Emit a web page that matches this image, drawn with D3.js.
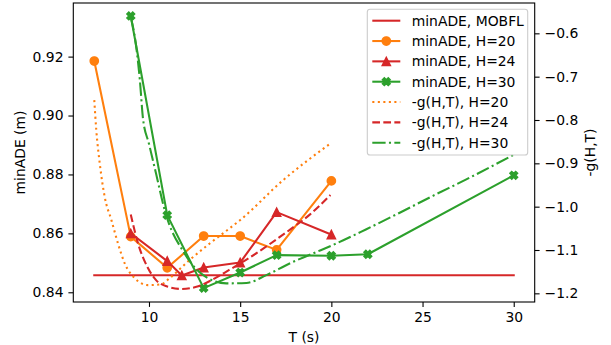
<!DOCTYPE html>
<html><head><meta charset="utf-8">
<script src="https://cdn.jsdelivr.net/npm/d3@7"></script>
<style>
html,body{margin:0;padding:0;background:#fff;}
svg{display:block;font-family:"DejaVu Sans",sans-serif;}
</style></head>
<body><svg id="chart" width="611" height="345"></svg>
<script>
// ---- data ----
const T20 = [7, 9, 11, 13, 15, 17, 20];
const ade20 = [0.9185, 0.8589, 0.8483, 0.8591, 0.8591, 0.8544, 0.8778];
const T24 = [9, 11, 11.8, 13, 15, 17, 20];
const ade24 = [0.8600, 0.8506, 0.8457, 0.8484, 0.8501, 0.8672, 0.8596];
const T30 = [9, 11, 13, 15, 17, 20, 22, 30];
const ade30 = [0.9338, 0.8662, 0.8414, 0.8467, 0.8526, 0.8524, 0.8529, 0.8797];
const Tmobfl = [7, 30];
const adeMobfl = [0.8458, 0.8458];

const gT20 = [7.0, 7.11, 7.30, 7.57, 7.94, 8.30, 8.67, 9.22, 9.95, 10.68, 11.13, 12.23, 13.33, 14.42, 14.97, 17.35, 19.95];
const g20  = [-0.754, -0.823, -0.900, -0.977, -1.031, -1.085, -1.131, -1.165, -1.181, -1.179, -1.165, -1.123, -1.085, -1.050, -1.032, -0.939, -0.854];
const gT24 = [9.0, 9.4, 9.95, 10.4, 11.0, 11.8, 12.6, 13.5, 14.4, 15.5, 16.6, 17.7, 18.8, 19.95];
const g24  = [-1.018, -1.085, -1.142, -1.170, -1.184, -1.190, -1.185, -1.168, -1.146, -1.118, -1.087, -1.054, -1.019, -0.973];
const gT30 = [9.0, 9.19, 9.5, 9.67, 10.0, 10.4, 10.86, 11.95, 13.23, 14.24, 15.34, 16.44, 17.71, 18.99, 20.27, 21.92, 23.75, 25.57, 27.40, 29.96];
const g30  = [-0.563, -0.600, -0.708, -0.796, -0.855, -0.926, -1.008, -1.108, -1.165, -1.177, -1.176, -1.158, -1.131, -1.108, -1.085, -1.052, -1.014, -0.975, -0.937, -0.881];

const xTicks = [10, 15, 20, 25, 30];
const yLeftTicks = [0.84, 0.86, 0.88, 0.90, 0.92];
const yRightTicks = [-0.6, -0.7, -0.8, -0.9, -1.0, -1.1, -1.2];

const C_OR = "#ff7f0e", C_RED = "#d62728", C_GR = "#2ca02c";

// ---- layout ----
const W = 611, H = 345;
const m = {l: 73.3, r: 76.3, t: 3, b: 43};
const x0 = m.l, x1 = W - m.r, y0 = m.t, y1 = H - m.b;
const FS = 13.9;
const LW = 2.08;

const x = d3.scaleLinear().domain([5.85, 31.15]).range([x0, x1]);
const yL = d3.scaleLinear().domain([0.8367, 0.9382]).range([y1, y0]);
const yR = d3.scaleLinear().domain([-1.220, -0.530]).range([y1, y0]);

const svg = d3.select("#chart");

const clipId = "plotclip";
svg.append("defs").append("clipPath").attr("id", clipId)
  .append("rect").attr("x", x0).attr("y", y0).attr("width", x1 - x0).attr("height", y1 - y0);

// ---- symbols ----
const triSym = {draw(ctx, size) { const r = Math.sqrt(size) / 2; ctx.moveTo(0, -r); ctx.lineTo(r, r); ctx.lineTo(-r, r); ctx.closePath(); }};
function marker(g, type, size, color, cx, cy, rot) {
  g.append("path")
    .attr("d", d3.symbol().type(type).size(size)())
    .attr("transform", `translate(${cx},${cy})` + (rot ? ` rotate(${rot})` : ""))
    .attr("fill", color).attr("stroke", color).attr("stroke-width", 1.39);
}
const SYM = {
  circle: {type: d3.symbolCircle, size: Math.PI * 4.17 * 4.17, rot: 0},
  tri: {type: triSym, size: 8.33 * 8.33, rot: 0},
  x: {type: d3.symbolCross, size: 38.6, rot: 45}
};

const plot = svg.append("g").attr("clip-path", `url(#${clipId})`);

function drawSeries(xs, ys, yScale, color, dash, sym, curve) {
  const pts = xs.map((t, i) => [x(t), yScale(ys[i])]);
  const line = d3.line().curve(curve || d3.curveLinear);
  plot.append("path").attr("d", line(pts)).attr("fill", "none")
    .attr("stroke", color).attr("stroke-width", LW)
    .attr("stroke-dasharray", dash || null)
    .attr("stroke-linecap", dash ? "butt" : "square")
    .attr("stroke-linejoin", "round");
  if (sym) {
    const s = SYM[sym];
    pts.forEach(p => marker(plot, s.type, s.size, color, p[0], p[1], s.rot));
  }
}

// left axis series
drawSeries(Tmobfl, adeMobfl, yL, C_RED, null, null);
drawSeries(T20, ade20, yL, C_OR, null, "circle");
drawSeries(T24, ade24, yL, C_RED, null, "tri");
drawSeries(T30, ade30, yL, C_GR, null, "x");

// right axis series (twin axis drawn above)
const DOT = `${1 * LW},${1.65 * LW}`;
const DASH = `${3.7 * LW},${1.6 * LW}`;
const DASHDOT = `${6.4 * LW},${1.6 * LW},${1 * LW},${1.6 * LW}`;
drawSeries(gT20, g20, yR, C_OR, DOT, null, d3.curveMonotoneX);
drawSeries(gT24, g24, yR, C_RED, DASH, null, d3.curveMonotoneX);
drawSeries(gT30, g30, yR, C_GR, DASHDOT, null, d3.curveMonotoneX);

// ---- axes ----
function styleAxis(g) {
  g.selectAll("path.domain").remove();
  g.selectAll("line").attr("stroke", "#000").attr("stroke-width", 1.1);
  g.selectAll("text").attr("font-size", FS).attr("fill", "#000").attr("font-family", "DejaVu Sans");
}
svg.append("g").attr("transform", `translate(0,${y1})`)
  .call(d3.axisBottom(x).tickValues(xTicks).tickFormat(d3.format("d")).tickSize(4.9).tickPadding(4.9))
  .call(styleAxis);
svg.append("g").attr("transform", `translate(${x0},0)`)
  .call(d3.axisLeft(yL).tickValues(yLeftTicks).tickFormat(d3.format(".2f")).tickSize(4.9).tickPadding(4.9))
  .call(styleAxis);
svg.append("g").attr("transform", `translate(${x1},0)`)
  .call(d3.axisRight(yR).tickValues(yRightTicks).tickFormat(d3.format(".1f")).tickSize(4.9).tickPadding(4.9))
  .call(styleAxis);

// frame
svg.append("rect").attr("x", x0).attr("y", y0).attr("width", x1 - x0).attr("height", y1 - y0)
  .attr("fill", "none").attr("stroke", "#000").attr("stroke-width", 1.1);

// axis labels
svg.append("text").attr("x", (x0 + x1) / 2).attr("y", 341.5).attr("text-anchor", "middle")
  .attr("font-size", FS).text("T (s)");
svg.append("text").attr("transform", `translate(25,${(y0 + y1) / 2}) rotate(-90)`).attr("text-anchor", "middle")
  .attr("font-size", FS).text("minADE (m)");
svg.append("text").attr("transform", `translate(595,${(y0 + y1) / 2}) rotate(-90)`).attr("text-anchor", "middle")
  .attr("font-size", FS).text("-g(H,T)");

// ---- legend ----
const legendItems = [
  {label: "minADE, MOBFL", color: C_RED, dash: null, sym: null},
  {label: "minADE, H=20", color: C_OR, dash: null, sym: "circle"},
  {label: "minADE, H=24", color: C_RED, dash: null, sym: "tri"},
  {label: "minADE, H=30", color: C_GR, dash: null, sym: "x"},
  {label: "-g(H,T), H=20", color: C_OR, dash: DOT, sym: null},
  {label: "-g(H,T), H=24", color: C_RED, dash: DASH, sym: null},
  {label: "-g(H,T), H=30", color: C_GR, dash: DASHDOT, sym: null}
];
const lg = svg.append("g");
const lx = 367.3, ly = 9.3, lw = 160.4, lh = 145.7;
lg.append("rect").attr("x", lx).attr("y", ly).attr("width", lw).attr("height", lh)
  .attr("rx", 2.8).attr("fill", "#fff").attr("fill-opacity", 0.8).attr("stroke", "#cccccc").attr("stroke-width", 1.1);
const rowY = d3.scaleLinear().domain([0, 6]).range([20.7, 142.7]);
legendItems.forEach((it, i) => {
  const cy = rowY(i);
  lg.append("line").attr("x1", 372.3).attr("x2", 400.3).attr("y1", cy).attr("y2", cy)
    .attr("stroke", it.color).attr("stroke-width", LW).attr("stroke-dasharray", it.dash || null);
  if (it.sym) { const s = SYM[it.sym]; marker(lg, s.type, s.size, it.color, 386.3, cy, s.rot); }
  lg.append("text").attr("x", 411.7).attr("y", cy).attr("dy", "0.36em").attr("font-size", FS).text(it.label);
});
</script></body></html>
